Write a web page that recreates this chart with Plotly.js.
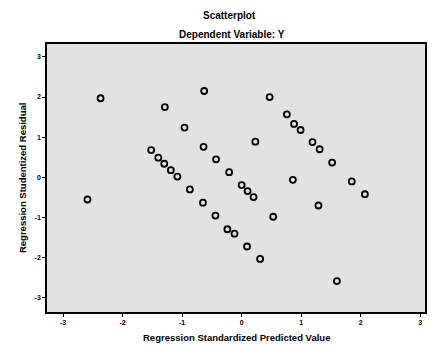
<!DOCTYPE html>
<html>
<head>
<meta charset="utf-8">
<script src="https://cdn.plot.ly/plotly-3.0.1.min.js"></script>
<style>html,body{margin:0;padding:0;background:#fff}</style>
</head>
<body>
<div id="chart" style="width:432px;height:346px"></div>
<script>
// Regression standardized predicted value (x) and studentized residual (y)
const predicted = [-2.37, -0.63, -1.29, -0.96, -0.64, -1.52, -1.40, -1.30, -0.43, -1.19, -1.08, -0.21,
  0.47, 0.76, 0.88, 0.99, 0.23, 1.19, 1.31, 1.52, 0.86,
  -2.59, -0.87, 0.00, 0.10, -0.65, -0.44, -0.24, -0.12, 0.09,
  1.85, 2.07, 0.20, 1.29, 0.53, 0.31, 1.60];
const residual = [1.97, 2.15, 1.75, 1.24, 0.76, 0.68, 0.49, 0.34, 0.45, 0.18, 0.02, 0.13,
  2.00, 1.57, 1.33, 1.18, 0.89, 0.88, 0.70, 0.37, -0.06,
  -0.55, -0.30, -0.19, -0.34, -0.63, -0.95, -1.29, -1.40, -1.72,
  -0.10, -0.42, -0.49, -0.70, -0.98, -2.03, -2.58];
const tickVals = [-3, -2, -1, 0, 1, 2, 3];
const tickText = ['-3', '-2', '-1', '0', '1', '2', '3'];

const fontFam = 'Liberation Sans, Arial, sans-serif';
const trace = {
  x: predicted, y: residual, type: 'scatter', mode: 'markers',
  marker: {symbol: 'circle-open', size: 6, color: '#000', line: {width: 1.8, color: '#000'}},
  hoverinfo: 'none'
};
const axisCommon = {
  showgrid: false, zeroline: false, showline: true, linewidth: 1.8, linecolor: '#000', mirror: true,
  ticks: 'outside', ticklen: 3, tickwidth: 1, tickcolor: '#000',
  tickvals: tickVals, ticktext: tickText,
  tickfont: {family: fontFam, size: 7, color: '#000', weight: 'bold'}
};
const layout = {
  width: 432, height: 346,
  margin: {l: 47, r: 7, t: 44, b: 34},
  paper_bgcolor: '#fff', plot_bgcolor: '#e2e2e2',
  showlegend: false,
  xaxis: Object.assign({}, axisCommon, {range: [-3.27, 3.08]}),
  yaxis: Object.assign({}, axisCommon, {range: [-3.35, 3.32]}),
  annotations: [
    {text: '<b>Scatterplot</b>', xref: 'paper', yref: 'paper', x: 0.484, y: 1.108, xanchor: 'center', yanchor: 'middle', showarrow: false, font: {family: fontFam, size: 10, color: '#000'}},
    {text: '<b>Dependent Variable: Y</b>', xref: 'paper', yref: 'paper', x: 0.49, y: 1.034, xanchor: 'center', yanchor: 'middle', showarrow: false, font: {family: fontFam, size: 10, color: '#000'}},
    {text: '<b>Regression Standardized Predicted Value</b>', xref: 'paper', yref: 'paper', x: 0.5, y: -0.097, xanchor: 'center', yanchor: 'middle', showarrow: false, font: {family: fontFam, size: 9.5, color: '#000'}},
    {text: '<b>Regression Studentized Residual</b>', xref: 'paper', yref: 'paper', x: -0.066, y: 0.5, xanchor: 'center', yanchor: 'middle', textangle: -90, showarrow: false, font: {family: fontFam, size: 9.5, color: '#000'}}
  ]
};
Plotly.newPlot('chart', [trace], layout, {displayModeBar: false, staticPlot: true});
</script>
</body>
</html>
